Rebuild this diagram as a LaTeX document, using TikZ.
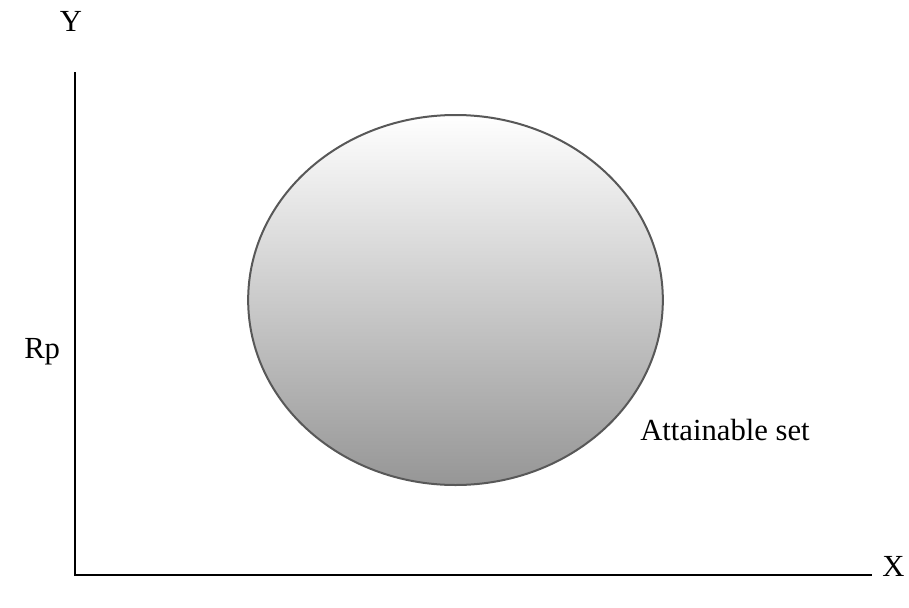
\documentclass[tikz,border=0pt]{standalone}
\usepackage{fontspec}
\setmainfont{Liberation Serif}
\definecolor{setgray}{RGB}{150,150,150}
\definecolor{rimgray}{RGB}{88,88,88}
\usetikzlibrary{positioning,shapes.geometric}

\begin{document}
\begin{tikzpicture}[x=0.75pt,y=-0.75pt,
    axis/.style={line width=1.5pt, black},
    lbl/.style={font=\fontsize{23}{28}\selectfont, inner sep=0pt}]
    \useasboundingbox (0,0) rectangle (909,607);
    % Axes
    \coordinate (ytop) at (75,72);
    \coordinate (origin) at (75,575);
    \coordinate (xend) at (872,575);
    \draw[axis] (ytop) -- (origin) -- (xend);
    \node[lbl, anchor=base] (ylab) at (71,31) {Y};
    \node[lbl, anchor=base west] (xlab) at (882,576) {X};
    \node[lbl, anchor=base west] (rp) at (24,358) {Rp};
    % Attainable set
    \node[draw=rimgray, line width=1.5pt, ellipse, inner sep=0pt,
          minimum width=311pt, minimum height=277.5pt,
          top color=white, bottom color=setgray] (set) at (455.5,300) {};
    \node[lbl, anchor=base west] (setlab) at (640,440) {Attainable set};
\end{tikzpicture}
\end{document}
